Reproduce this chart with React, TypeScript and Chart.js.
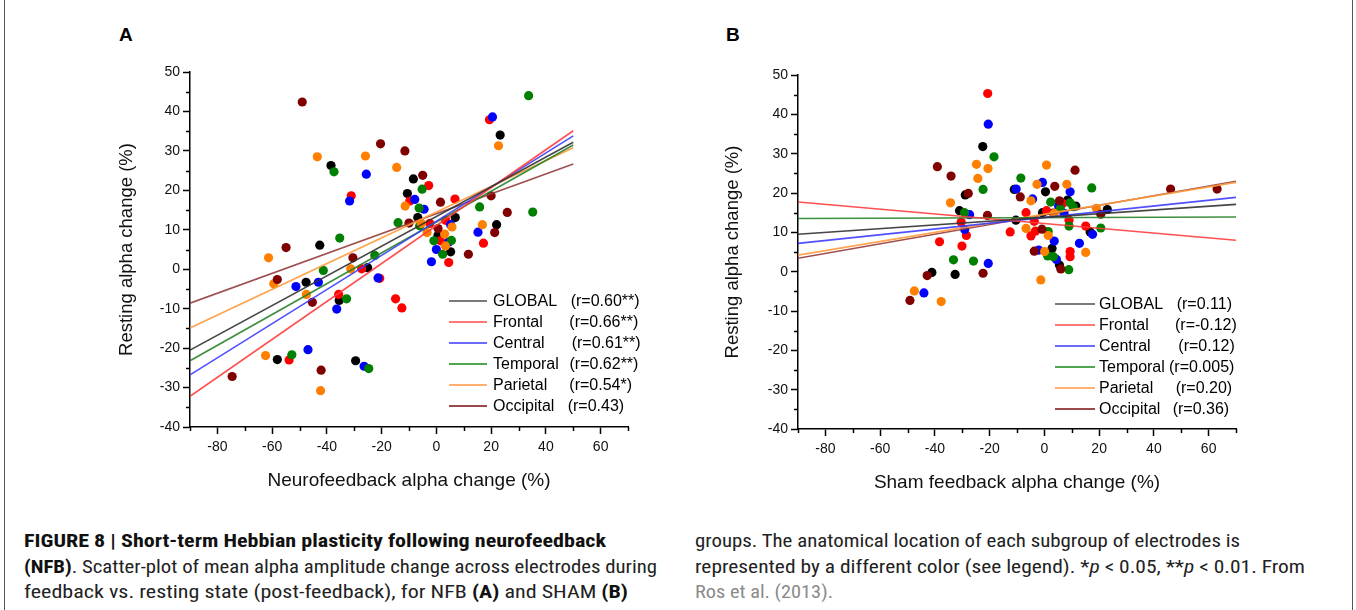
import React, { useEffect, useRef } from "react";
import { Chart, registerables } from "chart.js";

Chart.register(...registerables);

const FONT = "'Liberation Sans', Arial, Helvetica, sans-serif";
const CAPTION_FONT = "'Liberation Sans Narrow', 'Roboto Condensed', 'DejaVu Sans Condensed', 'Liberation Sans', Arial, sans-serif";

// ---- labels ----
const groups = ["GLOBAL", "Frontal", "Central", "Temporal", "Parietal", "Occipital"];
const nfbR = ["(r=0.60**)", "(r=0.66**)", "(r=0.61**)", "(r=0.62**)", "(r=0.54*)", "(r=0.43)"];
const shamR = ["(r=0.11)", "(r=-0.12)", "(r=0.12)", "(r=0.005)", "(r=0.20)", "(r=0.36)"];

// ---- tick values ----
const xTickValues = [-80, -60, -40, -20, 0, 20, 40, 60];
const xMinorValues = [-90, -70, -50, -30, -10, 10, 30, 50, 70];
const yMinorValues = [-35, -25, -15, -5, 5, 15, 25, 35, 45];

// ---- Panel A (NFB) points [x, y] ----
const nfbGlobal = [[-38.5, 26.3], [-10.6, 19.2], [-42.6, 6.1], [-25.1, 0.4], [-47.6, -3.3], [-35.5, -7.9], [-58.1, -22.9], [-29.5, -23.2], [23.3, 34.0], [-8.4, 22.9], [-6.8, 13.1], [6.9, 13.1], [0.6, 8.6], [22.0, 11.3], [5.2, 4.4]];
const nfbFrontal = [[-31.1, 18.6], [-27.3, 0.1], [-20.7, -2.3], [-35.7, -6.4], [-14.9, -7.5], [-12.6, -9.8], [-53.8, -23.0], [19.4, 37.9], [-2.8, 21.2], [-9.7, 17.3], [6.8, 17.8], [-2.4, 11.6], [3.4, 12.4], [17.2, 6.6], [1.5, 7.2], [4.5, 1.7]];
const nfbCentral = [[-25.6, 24.1], [-31.7, 17.3], [-51.3, -4.4], [-43.1, -3.3], [-21.3, -2.2], [-36.4, -10.1], [-46.9, -20.4], [-26.4, -24.6], [20.5, 38.6], [-7.9, 17.7], [-4.5, 15.2], [5.2, 11.3], [15.2, 9.4], [4.5, 6.9], [0.0, 5.0], [-1.8, 1.9]];
const nfbTemporal = [[-37.4, 24.7], [-14.0, 11.8], [-35.3, 7.9], [-22.5, 3.5], [-41.3, -0.3], [-32.8, -7.5], [-52.8, -21.7], [-24.7, -25.2], [33.7, 44.0], [-5.2, 20.3], [-6.3, 15.5], [15.8, 15.8], [35.2, 14.5], [-6.1, 11.0], [-0.9, 7.2], [5.5, 7.3], [2.3, 3.8]];
const nfbParietal = [[-43.5, 28.5], [-25.9, 28.7], [-14.5, 25.8], [-11.4, 16.0], [-61.3, 2.9], [-31.3, 0.1], [-59.4, -3.7], [-47.5, -6.4], [-62.4, -21.9], [-42.3, -30.8], [22.7, 31.3], [-5.5, 11.6], [-3.4, 9.3], [3.0, 8.9], [5.7, 10.7], [16.8, 11.3], [3.3, 5.9]];
const nfbOccipital = [[-49.0, 42.4], [-20.4, 31.8], [-11.5, 30.0], [-10.0, 11.7], [-54.9, 5.5], [-30.5, 2.9], [-58.1, -2.6], [-45.3, -8.4], [-42.1, -25.6], [-74.6, -27.2], [-5.0, 23.8], [1.5, 17.0], [20.0, 18.6], [25.9, 14.4], [0.6, 10.3], [21.3, 9.3], [11.7, 3.8]];

// Panel A regression lines (value at x = -90 and at x = 50)
const nfbFitX = [-90, 50];
const nfbFitStart = [-20.5, -32.2, -26.8, -23.2, -14.9, -8.6];
const nfbFitEnd = [32.2, 35.1, 33.8, 31.5, 30.8, 26.7];

// ---- Panel B (SHAM) points [x, y] ----
const shamGlobal = [[-22.5, 31.8], [-28.9, 19.5], [-31.0, 15.5], [-41.1, -0.2], [-32.6, -0.7], [-11.0, 20.9], [0.4, 20.3], [8.5, 18.2], [-0.7, 15.0], [3.3, 14.9], [23.0, 15.8], [-10.4, 13.1], [16.7, 10.1], [2.8, 5.9], [5.5, 1.7], [11.5, 16.7]];
const shamFrontal = [[-20.7, 45.3], [-30.4, 12.6], [-28.5, 9.2], [-38.3, 7.6], [-30.1, 6.5], [-12.5, 10.1], [6.7, 17.3], [0.8, 15.5], [-6.7, 15.0], [-3.7, 12.8], [-4.9, 9.1], [-3.3, 10.3], [9.0, 13.1], [15.1, 11.6], [9.4, 5.1], [9.4, 3.8]];
const shamCentral = [[-20.5, 37.5], [-27.3, 14.5], [-29.1, 10.7], [-20.5, 2.1], [-10.3, 21.0], [-0.7, 22.7], [9.4, 20.3], [-4.3, 18.5], [5.2, 16.7], [7.2, 14.8], [17.6, 9.5], [12.8, 7.2], [3.6, 7.8], [-2.1, 5.5], [4.4, 3.1], [-44.0, -5.4]];
const shamTemporal = [[-18.4, 29.2], [-22.4, 20.9], [-29.2, 15.0], [-33.2, 3.0], [-25.9, 2.7], [-8.6, 23.8], [17.3, 21.3], [2.3, 17.7], [9.4, 17.5], [10.5, 16.5], [5.8, 16.0], [1.4, 10.2], [9.0, 11.6], [20.6, 11.1], [1.2, 4.0], [3.3, 3.8], [8.9, 0.5]];
const shamParietal = [[-24.8, 27.3], [-20.6, 26.2], [-24.3, 23.7], [-34.3, 17.5], [-1.3, -2.1], [-2.7, 22.2], [0.8, 27.1], [8.2, 22.2], [-4.9, 18.0], [3.6, 14.8], [19.0, 16.1], [-6.7, 11.0], [1.4, 9.2], [15.1, 4.9], [0.1, 5.1], [-47.5, -4.9], [-37.7, -7.6]];
const shamOccipital = [[-39.1, 26.7], [-34.1, 24.3], [-27.8, 19.9], [-20.8, 14.3], [-22.4, -0.4], [-8.8, 19.0], [3.8, 21.7], [11.2, 25.8], [5.5, 18.0], [20.6, 14.6], [-0.9, 10.8], [-3.7, 5.2], [6.0, 0.7], [46.1, 21.0], [63.1, 21.0], [-42.8, -1.0], [-49.1, -7.3]];

// Panel B regression lines (value at x = -90 and at x = 70)
const shamFitX = [-90, 70];
const shamFitStart = [9.5, 17.7, 7.2, 13.5, 4.2, 3.4];
const shamFitEnd = [17.1, 8.0, 18.9, 13.9, 22.7, 23.0];

// ---- styles ----
const pointColors = ["#000000", "#ff0000", "#0000ff", "#008000", "#ff8000", "#800000"];
const fitColors = ["rgba(50,50,50,0.9)", "rgba(255,60,60,0.9)", "rgba(60,60,255,0.9)", "rgba(40,130,40,0.9)", "rgba(255,155,60,0.9)", "rgba(150,60,60,0.9)"];
const legendColors = ["#7a7a7a", "#ff7777", "#6b6bff", "#4fa64f", "#ffb070", "#9a4a4a"];

type PanelProps = {
  left: number;
  width: number;
  height: number;
  series: number[][][];
  fitX: number[];
  fitStart: number[];
  fitEnd: number[];
  xTitle: string;
  rTexts: string[];
  pad: { left: number; right: number; top: number; bottom: number };
  yTitlePad: number;
  legend: { lx0: number; lx1: number; tx: number; y0: number; dy: number; rx: number[] };
};

function ScatterPanel(p: PanelProps) {
  const ref = useRef<HTMLCanvasElement | null>(null);
  useEffect(() => {
    const canvas = ref.current;
    if (!canvas) return;
    const datasets: any[] = [];
    groups.forEach((g, i) => {
      datasets.push({
        type: "line",
        label: g + " fit",
        data: [
          { x: p.fitX[0], y: p.fitStart[i] },
          { x: p.fitX[1], y: p.fitEnd[i] },
        ],
        borderColor: fitColors[i],
        borderWidth: 1.6,
        pointRadius: 0,
        fill: false,
        order: 0,
      });
    });
    p.series.forEach((s, i) => {
      datasets.push({
        type: "scatter",
        label: groups[i],
        data: s.map((pt) => ({ x: pt[0], y: pt[1] })),
        backgroundColor: pointColors[i],
        borderWidth: 0,
        pointRadius: 4.6,
        order: 10 - i,
      });
    });

    const minorPlugin = {
      id: "minorTicks",
      afterDraw(chart: any) {
        const { ctx, chartArea, scales } = chart;
        ctx.save();
        ctx.strokeStyle = "#000";
        ctx.lineWidth = 1.5;
        xMinorValues.forEach((v) => {
          const px = Math.round(scales.x.getPixelForValue(v)) + 0.5;
          ctx.beginPath();
          ctx.moveTo(px, chartArea.bottom);
          ctx.lineTo(px, chartArea.bottom + 4);
          ctx.stroke();
        });
        yMinorValues.forEach((v) => {
          const py = Math.round(scales.y.getPixelForValue(v)) + 0.5;
          ctx.beginPath();
          ctx.moveTo(chartArea.left, py);
          ctx.lineTo(chartArea.left - 4, py);
          ctx.stroke();
        });
        ctx.restore();
      },
    };

    const legendPlugin = {
      id: "fitLegend",
      afterDraw(chart: any) {
        const { ctx } = chart;
        const L = p.legend;
        ctx.save();
        ctx.font = `16px ${FONT}`;
        ctx.textBaseline = "middle";
        ctx.textAlign = "left";
        groups.forEach((g, i) => {
          const y = L.y0 + i * L.dy;
          ctx.strokeStyle = legendColors[i];
          ctx.lineWidth = 2;
          ctx.beginPath();
          ctx.moveTo(L.lx0, y);
          ctx.lineTo(L.lx1, y);
          ctx.stroke();
          ctx.fillStyle = "#000";
          ctx.fillText(g, L.tx, y + 1);
          ctx.fillText(p.rTexts[i], L.rx[i], y + 1);
        });
        ctx.restore();
      },
    };

    const axisGrid = {
      drawOnChartArea: false,
      drawTicks: true,
      tickLength: 7,
      tickWidth: 1.5,
      tickColor: "#000",
    };
    const axisBorder = { display: true, color: "#000", width: 1.5 };

    const chart = new Chart(canvas, {
      type: "scatter",
      data: { datasets },
      options: {
        animation: false,
        responsive: false,
        maintainAspectRatio: false,
        layout: { padding: p.pad },
        plugins: {
          legend: { display: false },
          tooltip: { enabled: false },
          title: { display: false },
        },
        scales: {
          x: {
            type: "linear",
            min: -90,
            max: 70,
            afterBuildTicks: (s: any) => {
              s.ticks = xTickValues.map((v) => ({ value: v }));
            },
            afterFit: (s: any) => {
              s.height = 70;
            },
            ticks: {
              font: { family: FONT, size: 14 },
              color: "#111",
              padding: 5,
              maxRotation: 0,
              autoSkip: false,
            },
            grid: axisGrid,
            border: axisBorder,
            title: {
              display: true,
              text: p.xTitle,
              font: { family: FONT, size: 19 },
              color: "#111",
              padding: { top: 0, bottom: 5 },
            },
          },
          y: {
            type: "linear",
            min: -40,
            max: 50,
            ticks: {
              stepSize: 10,
              font: { family: FONT, size: 14 },
              color: "#111",
              padding: 3,
            },
            afterFit: (s: any) => {
              s.width = 90;
            },
            grid: axisGrid,
            border: axisBorder,
            title: {
              display: true,
              text: "Resting alpha change (%)",
              font: { family: FONT, size: 18.5 },
              color: "#111",
              padding: { top: p.yTitlePad, bottom: 0 },
            },
          },
        },
      } as any,
      plugins: [minorPlugin, legendPlugin],
    } as any);
    return () => chart.destroy();
  }, []);
  return (
    <canvas
      ref={ref}
      width={p.width}
      height={p.height}
      style={{ position: "absolute", left: p.left, top: 0, width: p.width, height: p.height }}
    />
  );
}

const captionLineStyle: React.CSSProperties = {
  position: "absolute",
  whiteSpace: "nowrap",
  fontFamily: CAPTION_FONT,
  fontSize: 18,
  lineHeight: "26px",
  color: "#222",
  transformOrigin: "0 50%",
};

export default function App() {
  const capRef = useRef<HTMLDivElement | null>(null);
  useEffect(() => {
    const fit = () => {
      const root = capRef.current;
      if (!root) return;
      root.querySelectorAll<HTMLElement>("[data-w]").forEach((el) => {
        el.style.transform = "none";
        const w = el.getBoundingClientRect().width;
        const target = Number(el.dataset.w);
        if (w > 0) el.style.transform = `scaleX(${target / w})`;
      });
    };
    fit();
    if ((document as any).fonts && (document as any).fonts.ready) {
      (document as any).fonts.ready.then(fit);
    }
  }, []);

  return (
    <div
      style={{
        position: "fixed",
        left: 0,
        top: 0,
        width: 1356,
        height: 610,
        background: "#fff",
        overflow: "hidden",
      }}
    >
      <div style={{ position: "absolute", left: 4, top: 0, width: 1, height: 610, background: "#555" }} />
      <div style={{ position: "absolute", left: 1352, top: 0, width: 1, height: 610, background: "#555" }} />

      <div style={{ position: "absolute", left: 119, top: 24, fontFamily: FONT, fontWeight: "bold", fontSize: 19, lineHeight: "22px", color: "#000" }}>A</div>
      <div style={{ position: "absolute", left: 726, top: 24, fontFamily: FONT, fontWeight: "bold", fontSize: 19, lineHeight: "22px", color: "#000" }}>B</div>

      <ScatterPanel
        left={0}
        width={678}
        height={520}
        series={[nfbGlobal, nfbFrontal, nfbCentral, nfbTemporal, nfbParietal, nfbOccipital]}
        fitX={nfbFitX}
        fitStart={nfbFitStart}
        fitEnd={nfbFitEnd}
        xTitle="Neurofeedback alpha change (%)"
        rTexts={nfbR}
        pad={{ left: 100, right: 50, top: 72, bottom: 23 }}
        yTitlePad={16}
        legend={{ lx0: 449, lx1: 487, tx: 493, y0: 301, dy: 21, rx: [570.7, 569.3, 571.7, 569.5, 569.3, 567.7] }}
      />
      <ScatterPanel
        left={678}
        width={678}
        height={520}
        series={[shamGlobal, shamFrontal, shamCentral, shamTemporal, shamParietal, shamOccipital]}
        fitX={shamFitX}
        fitStart={shamFitStart}
        fitEnd={shamFitEnd}
        xTitle="Sham feedback alpha change (%)"
        rTexts={shamR}
        pad={{ left: 30, right: 120, top: 75, bottom: 21 }}
        yTitlePad={14}
        legend={{ lx0: 377, lx1: 417, tx: 421, y0: 304, dy: 21, rx: [498.7, 497, 500.3, 491, 497.7, 494.7] }}
      />

      <div ref={capRef}>
        <div data-w="582" style={{ ...captionLineStyle, left: 24, top: 528, fontWeight: "bold", color: "#111" }}>
          FIGURE 8 | Short-term Hebbian plasticity following neurofeedback
        </div>
        <div data-w="633" style={{ ...captionLineStyle, left: 24, top: 554 }}>
          <b style={{ color: "#111" }}>(NFB)</b>. Scatter-plot of mean alpha amplitude change across electrodes during
        </div>
        <div data-w="604" style={{ ...captionLineStyle, left: 24, top: 579 }}>
          feedback vs. resting state (post-feedback), for NFB <b style={{ color: "#111" }}>(A)</b> and SHAM <b style={{ color: "#111" }}>(B)</b>
        </div>
        <div data-w="545" style={{ ...captionLineStyle, left: 695, top: 528 }}>
          groups. The anatomical location of each subgroup of electrodes is
        </div>
        <div data-w="610" style={{ ...captionLineStyle, left: 695, top: 554 }}>
          represented by a different color (see legend). *<i>p</i> &lt; 0.05, **<i>p</i> &lt; 0.01. From
        </div>
        <div data-w="138" style={{ ...captionLineStyle, left: 695, top: 579, color: "#8a8a8a" }}>
          Ros et al. (2013).
        </div>
      </div>
    </div>
  );
}
